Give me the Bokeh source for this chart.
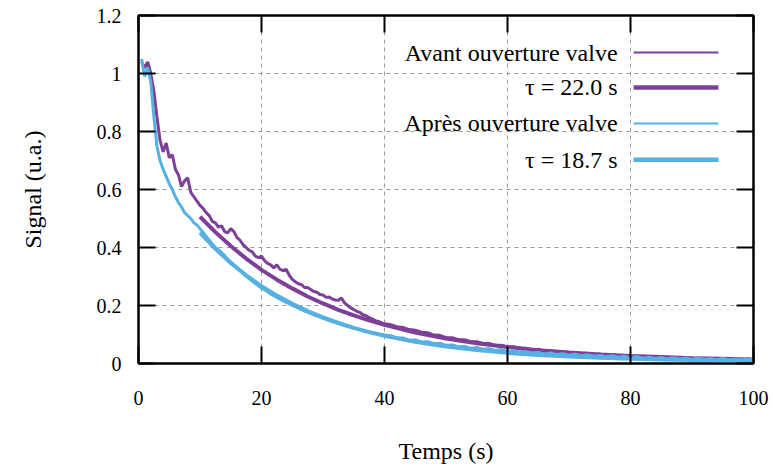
from bokeh.plotting import figure
from bokeh.models import Range1d, FixedTicker, LinearAxis, CustomJSTickFormatter, Label
from bokeh.embed import file_html
from bokeh.resources import INLINE

# ---------------- data ----------------
t_data = [0.5, 1.0, 1.5, 2.0, 2.5, 3.0, 3.5, 4.0, 4.5, 5.0, 5.5, 6.0, 6.5, 7.0, 7.5, 8.0, 8.5, 9.0, 9.5, 10.0,
          10.5, 11.0, 11.5, 12.0, 12.5, 13.0, 13.5, 14.0, 14.5, 15.0, 15.5, 16.0, 16.5, 17.0, 17.5, 18.0, 18.5, 19.0, 19.5, 20.0,
          20.5, 21.0, 21.5, 22.0, 22.5, 23.0, 23.5, 24.0, 24.5, 25.0, 25.5, 26.0, 26.5, 27.0, 27.5, 28.0, 28.5, 29.0, 29.5, 30.0,
          30.5, 31.0, 31.5, 32.0, 32.5, 33.0, 33.5, 34.0, 34.5, 35.0, 35.5, 36.0, 36.5, 37.0, 37.5, 38.0, 38.5, 39.0, 39.5, 40.0,
          41, 42, 43, 44, 45, 46, 47, 48, 49, 50, 51, 52, 53, 54, 55, 56, 57, 58, 59, 60,
          61, 62, 63, 64, 65, 66, 67, 68, 69, 70, 71, 72, 73, 74, 75, 76, 77, 78, 79, 80,
          81, 82, 83, 84, 85, 86, 87, 88, 89, 90, 91, 92, 93, 94, 95, 96, 97, 98, 99, 100]

avant = [1.04, 1.02, 1.04, 1.00, 0.94, 0.85, 0.77, 0.73, 0.76, 0.71, 0.72, 0.67, 0.65, 0.61, 0.63, 0.64, 0.59, 0.575, 0.56, 0.545,
         0.535, 0.52, 0.51, 0.49, 0.485, 0.47, 0.475, 0.455, 0.45, 0.465, 0.455, 0.435, 0.425, 0.41, 0.40, 0.39, 0.385, 0.37, 0.365, 0.37,
         0.355, 0.345, 0.34, 0.33, 0.34, 0.325, 0.32, 0.325, 0.305, 0.29, 0.282, 0.275, 0.272, 0.262, 0.262, 0.255, 0.248, 0.246, 0.238, 0.236,
         0.228, 0.229, 0.222, 0.219, 0.218, 0.226, 0.209, 0.20, 0.192, 0.186, 0.18, 0.176, 0.168, 0.165, 0.158, 0.154, 0.148, 0.145, 0.14, 0.137,
         0.134, 0.127, 0.124, 0.117, 0.115, 0.108, 0.106, 0.098, 0.097, 0.089, 0.089, 0.082, 0.082, 0.075, 0.075, 0.069, 0.069, 0.062, 0.063, 0.056,
         0.058, 0.051, 0.053, 0.046, 0.049, 0.042, 0.045, 0.039, 0.041, 0.036, 0.038, 0.033, 0.035, 0.030, 0.033, 0.027, 0.031, 0.025, 0.028, 0.023,
         0.026, 0.021, 0.024, 0.020, 0.023, 0.018, 0.022, 0.017, 0.020, 0.016, 0.019, 0.015, 0.018, 0.014, 0.017, 0.013, 0.017, 0.012, 0.016, 0.013]

apres = [1.05, 0.99, 1.02, 0.97, 0.85, 0.75, 0.70, 0.67, 0.645, 0.62, 0.60, 0.575, 0.555, 0.54, 0.52, 0.51, 0.50, 0.485, 0.478, 0.465,
         0.452, 0.438, 0.425, 0.412, 0.40, 0.392, 0.383, 0.372, 0.36, 0.35, 0.34, 0.331, 0.32, 0.311, 0.301, 0.292, 0.284, 0.276, 0.268, 0.26,
         0.254, 0.247, 0.24, 0.234, 0.228, 0.222, 0.216, 0.211, 0.206, 0.20, 0.196, 0.191, 0.186, 0.181, 0.177, 0.172, 0.168, 0.164, 0.16, 0.156,
         0.152, 0.148, 0.145, 0.141, 0.138, 0.135, 0.131, 0.128, 0.125, 0.122, 0.12, 0.117, 0.114, 0.111, 0.109, 0.106, 0.104, 0.102, 0.10, 0.098,
         0.096, 0.088, 0.088, 0.080, 0.081, 0.074, 0.075, 0.068, 0.069, 0.063, 0.064, 0.058, 0.059, 0.053, 0.055, 0.049, 0.051, 0.045, 0.048, 0.042,
         0.044, 0.039, 0.041, 0.036, 0.038, 0.033, 0.036, 0.031, 0.034, 0.029, 0.032, 0.027, 0.030, 0.025, 0.028, 0.023, 0.027, 0.022, 0.025, 0.019,
         0.024, 0.018, 0.022, 0.017, 0.021, 0.016, 0.020, 0.015, 0.019, 0.014, 0.018, 0.014, 0.017, 0.013, 0.017, 0.012, 0.016, 0.011, 0.016, 0.011]

t_fit = [10, 12.5, 15, 17.5, 20, 22.5, 25, 27.5, 30, 32.5, 35, 37.5, 40, 45, 50, 55, 60, 65, 70, 75, 80, 85, 90, 95, 100]
fit_avant = [0.506, 0.453, 0.405, 0.362, 0.323, 0.289, 0.259, 0.231, 0.207, 0.185, 0.166, 0.149, 0.133,
             0.107, 0.086, 0.070, 0.057, 0.046, 0.038, 0.031, 0.026, 0.022, 0.018, 0.016, 0.013]
fit_apres = [0.451, 0.3955, 0.3468, 0.3041, 0.2668, 0.2342, 0.2057, 0.1806, 0.1588, 0.1397, 0.123, 0.1083, 0.0955,
             0.0745, 0.0584, 0.0461, 0.0367, 0.0295, 0.024, 0.0198, 0.0166, 0.0141, 0.0122, 0.0107, 0.0096]

x_ticks = [0, 20, 40, 60, 80, 100]
y_ticks = [0, 0.2, 0.4, 0.6, 0.8, 1.0, 1.2]

labels = ["Avant ouverture valve", "τ = 22.0 s", "Après ouverture valve", "τ = 18.7 s"]

# ---------------- styling ----------------
FONT = "Liberation Serif"
PURPLE = "#7E3F98"
BLUE = "#56B0E2"

p = figure(width=773, height=470, output_backend="svg", toolbar_location=None,
           x_range=Range1d(0, 100), y_range=Range1d(0, 1.2),
           min_border_left=138, min_border_right=20, min_border_top=15, min_border_bottom=107,
           x_axis_label="Temps (s)", y_axis_label="Signal (u.a.)")
p.background_fill_color = "white"
p.border_fill_color = "white"
p.outline_line_color = "black"
p.outline_line_width = 2

fmt = CustomJSTickFormatter(code="return String(Math.round(tick*10)/10);")
blank = CustomJSTickFormatter(code="return '';")

def style_axis(ax):
    ax.axis_line_width = 2
    ax.axis_line_color = "black"
    ax.major_tick_in = 17
    ax.major_tick_out = 0
    ax.major_tick_line_width = 2
    ax.major_tick_line_color = "black"
    ax.minor_tick_line_color = None
    ax.major_label_text_font = FONT
    ax.major_label_text_font_size = "20px"
    ax.major_label_text_color = "black"
    ax.axis_label_text_font = FONT
    ax.axis_label_text_font_style = "normal"
    ax.axis_label_text_color = "black"
    ax.axis_label_text_font_size = "24px"

xax = p.xaxis[0]
yax = p.yaxis[0]
xax.ticker = FixedTicker(ticks=x_ticks)
yax.ticker = FixedTicker(ticks=y_ticks)
xax.formatter = fmt
yax.formatter = fmt
style_axis(xax)
style_axis(yax)
xax.major_label_standoff = 27
xax.axis_label_standoff = 30
yax.major_label_standoff = 17
yax.axis_label_standoff = 48

top = LinearAxis(ticker=FixedTicker(ticks=x_ticks), formatter=blank)
right = LinearAxis(ticker=FixedTicker(ticks=y_ticks), formatter=blank)
for ax in (top, right):
    style_axis(ax)
    ax.major_label_standoff = 0
p.add_layout(top, "above")
p.add_layout(right, "right")

for g in (p.xgrid[0], p.ygrid[0]):
    g.grid_line_color = "#9a9a9a"
    g.grid_line_dash = "4 4"
    g.grid_line_width = 1
p.xgrid[0].ticker = FixedTicker(ticks=x_ticks)
p.ygrid[0].ticker = FixedTicker(ticks=y_ticks)

# ---------------- series ----------------
p.line(t_data, avant, line_color=PURPLE, line_width=3)
p.line(t_fit, fit_avant, line_color=PURPLE, line_width=4)
p.line(t_data, apres, line_color=BLUE, line_width=3)
p.line(t_fit, fit_apres, line_color=BLUE, line_width=4)

# ---------------- legend (label left, sample right) ----------------
leg_y = [1.072, 0.952, 0.828, 0.703]
leg_col = [PURPLE, PURPLE, BLUE, BLUE]
leg_w = [2, 4.5, 2, 4.5]
for lab, yy, c, w in zip(labels, leg_y, leg_col, leg_w):
    p.add_layout(Label(x=77.9, y=yy, text=lab, text_align="right", text_baseline="middle",
                       text_font=FONT, text_font_size="24px", text_color="black"))
    p.line([80.5, 94.3], [yy, yy], line_color=c, line_width=w)

open("out.html", "w").write(file_html(p, INLINE))
